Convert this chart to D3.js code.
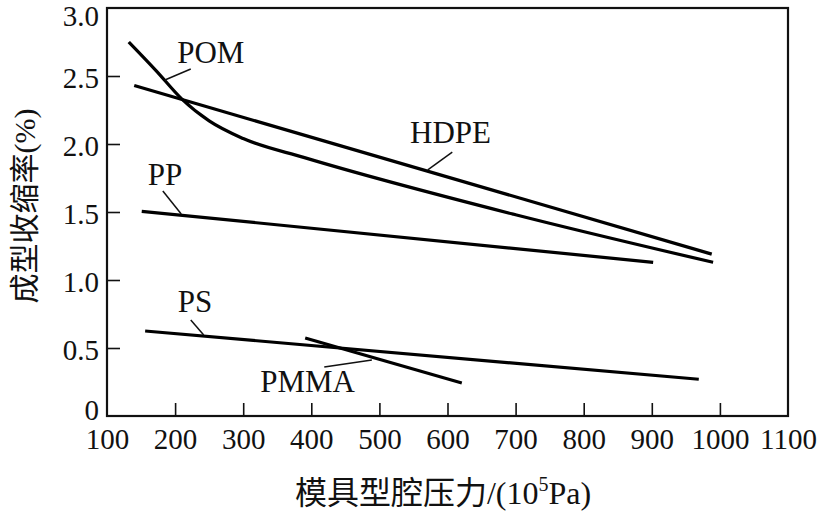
<!DOCTYPE html>
<html><head><meta charset="utf-8">
<script src="https://cdn.jsdelivr.net/npm/d3@7"></script>
<style>
html,body{margin:0;padding:0;background:#fff;}
svg text{font-family:"Liberation Serif","Times New Roman",serif !important;fill:#111;}
svg text .cjk, svg text.cjk{font-family:"Noto Sans CJK SC","Noto Sans CJK JP",sans-serif !important;}
</style></head>
<body>
<svg id="c" width="821" height="513"></svg>
<script>
// ---- data ----
const xTicks = [100,200,300,400,500,600,700,800,900,1000,1100];
const yTicks = [0,0.5,1.0,1.5,2.0,2.5,3.0];
const POM  = [[132,2.75],[172,2.54],[210,2.33],[250,2.17],[300,2.04],[390,1.90],[700,1.48],[990,1.13]];
const HDPE = [[140,2.43],[988,1.19]];
const PP   = [[151,1.505],[902,1.13]];
const PS   = [[156,0.625],[969,0.27]];
const PMMA = [[391,0.573],[621,0.243]];
const seriesNames = ["POM","HDPE","PP","PS","PMMA"];
const seriesData = [POM,HDPE,PP,PS,PMMA];
// label anchor (data units) and leader line endpoints
const labelPos = [[203,2.596],[545,2.007],[160,1.699],[204,0.765],[325,0.176]];
const leaderFrom = [[223,2.551],[607,1.941],[182,1.654],[223,0.706],[419,0.36]];
const leaderTo   = [[185,2.471],[571,1.809],[209,1.485],[242,0.596],[489,0.412]];

const svg = d3.select("#c");
const L=107, R=788, T=8, B=416;
const x = d3.scaleLinear().domain([100,1100]).range([L,R]);
const y = d3.scaleLinear().domain([0,3]).range([B,T]);

// frame
svg.append("rect").attr("x",L).attr("y",T).attr("width",R-L).attr("height",B-T)
  .attr("fill","none").attr("stroke","#111").attr("stroke-width",2.2);

// axes
const ax = svg.append("g").attr("transform",`translate(0,${B})`)
  .call(d3.axisBottom(x).tickValues(xTicks).tickFormat(d3.format("d")).tickSize(-13).tickPadding(12));
const ay = svg.append("g").attr("transform",`translate(${L},0)`)
  .call(d3.axisLeft(y).tickValues(yTicks).tickFormat(d=>d===0?"0":d3.format(".1f")(d)).tickSize(-13).tickPadding(8));
[ax,ay].forEach(g=>{
  g.attr("font-family",null).attr("font-size",null);
  g.select(".domain").remove();
  g.selectAll(".tick line").attr("stroke","#111").attr("stroke-width",1.6);
  g.selectAll(".tick text").attr("font-size",29).attr("fill","#111");
});
ay.selectAll(".tick text").attr("dy","0.4em");
ay.selectAll(".tick").filter(d=>d===3).select("text").attr("dy","0.62em");
ay.selectAll(".tick").filter(d=>d===0).select("text").attr("dy","0.12em");
ax.selectAll(".tick").filter(d=>d===100||d===1100).select("line").remove();
ay.selectAll(".tick").filter(d=>d===0||d===3).select("line").remove();

// lines
const line = d3.line().x(d=>x(d[0])).y(d=>y(d[1])).curve(d3.curveMonotoneX);
svg.selectAll(".series").data(seriesData).enter().append("path")
  .attr("d",line).attr("fill","none").attr("stroke","#000").attr("stroke-width",3.2).attr("stroke-linecap","butt");

// leaders
seriesNames.forEach((n,i)=>{
  svg.append("line").attr("x1",x(leaderFrom[i][0])).attr("y1",y(leaderFrom[i][1]))
    .attr("x2",x(leaderTo[i][0])).attr("y2",y(leaderTo[i][1])).attr("stroke","#111").attr("stroke-width",1.5);
  svg.append("text").attr("x",x(labelPos[i][0])).attr("y",y(labelPos[i][1]))
    .attr("font-size",31).text(n);
});

// axis titles
const xt = svg.append("text").attr("x",443).attr("y",504).attr("text-anchor","middle").attr("font-size",32);
xt.append("tspan").attr("class","cjk").text("模具型腔压力");
xt.append("tspan").text("/(10");
xt.append("tspan").attr("font-size",20).attr("dy",-13).text("5");
xt.append("tspan").attr("dy",13).text("Pa)");

const yt = svg.append("text").attr("transform","translate(35,206) rotate(-90)").attr("text-anchor","middle").attr("font-size",30);
yt.append("tspan").attr("class","cjk").text("成型收缩率");
yt.append("tspan").text("(%)");
</script>
</body></html>
